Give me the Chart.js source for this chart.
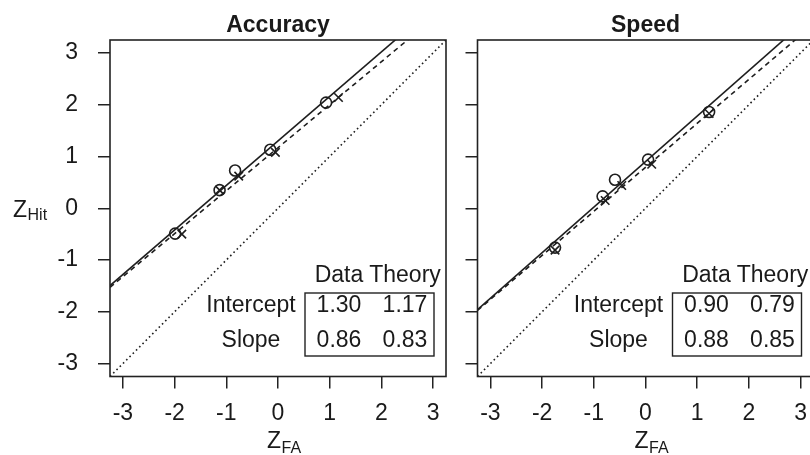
<!DOCTYPE html>
<html>
<head>
<meta charset="utf-8">
<script src="https://cdn.jsdelivr.net/npm/chart.js@4/dist/chart.umd.min.js"></script>
<style>
html,body{margin:0;padding:0;background:#fff;overflow:hidden;width:810px;height:455px;}
#wrap{position:relative;width:810px;height:455px;overflow:hidden;background:#fff;}
canvas{position:absolute;top:0;}
#c1{left:0;}
#c2{left:460px;}
</style>
</head>
<body>
<div id="wrap">
<canvas id="c1" width="460" height="455"></canvas>
<canvas id="c2" width="370" height="455"></canvas>
</div>
<script>
// ---- data ----
const panelTitles = ['Accuracy', 'Speed'];
const tickValues = [-3, -2, -1, 0, 1, 2, 3];
const axisMin = -3.25;
const axisMax = 3.25;
const xAxisTitle = ['Z', 'FA'];
const yAxisTitle = ['Z', 'Hit'];

// Accuracy panel: observed (o) and theory (x) points
const accuracyDataX   = [-1.99, -1.13, -0.83, -0.15, 0.93];
const accuracyDataY   = [-0.49,  0.35,  0.73,  1.13, 2.04];
const accuracyTheoryX = [-1.86, -1.13, -0.76, -0.05, 1.17];
const accuracyTheoryY = [-0.50,  0.35,  0.62,  1.08, 2.14];

// Speed panel
const speedDataX   = [-1.75, -0.83, -0.59, 0.05, 1.23];
const speedDataY   = [-0.76,  0.23,  0.55, 0.94, 1.86];
const speedTheoryX = [-1.75, -0.78, -0.46, 0.12, 1.23];
const speedTheoryY = [-0.81,  0.15,  0.44, 0.85, 1.83];

// Fit table: [Data, Theory]
const tableColumns = ['Data', 'Theory'];
const tableRows = ['Intercept', 'Slope'];
const accuracyIntercept = [1.30, 1.17];
const accuracySlope     = [0.86, 0.83];
const speedIntercept    = [0.90, 0.79];
const speedSlope        = [0.88, 0.85];

// ---- drawing ----
const FONT = '"Liberation Sans", Arial, Helvetica, sans-serif';
const INK = '#1a1a1a';
Chart.defaults.font.family = FONT;
Chart.defaults.font.size = 23;
Chart.defaults.color = INK;

function zip(xs, ys) { return xs.map((x, i) => ({x: x, y: ys[i]})); }
function fitLine(a, b) { return [{x: axisMin, y: a + b * axisMin}, {x: axisMax, y: a + b * axisMax}]; }

const panelPlugin = {
  id: 'panelDecor',
  afterDraw(chart, args, o) {
    const ctx = chart.ctx, ca = chart.chartArea;
    ctx.save();
    // box
    ctx.strokeStyle = '#222';
    ctx.lineWidth = 1.6;
    ctx.strokeRect(ca.left, ca.top, ca.right - ca.left, ca.bottom - ca.top);
    ctx.fillStyle = INK;
    // title
    ctx.font = 'bold 23px ' + FONT;
    ctx.textAlign = 'center';
    ctx.textBaseline = 'alphabetic';
    const cx = (ca.left + ca.right) / 2;
    ctx.fillText(o.title, cx, 31.5);
    // x axis title with subscript
    ctx.textAlign = 'left';
    ctx.font = '23px ' + FONT;
    const zx = cx - 11;
    ctx.fillText(xAxisTitle[0], zx, 448);
    const zw = ctx.measureText(xAxisTitle[0]).width;
    ctx.font = '16px ' + FONT;
    ctx.fillText(xAxisTitle[1], zx + zw + 0.5, 453);
    // y axis title
    if (o.yTitle) {
      ctx.font = '23px ' + FONT;
      ctx.fillText(yAxisTitle[0], 13, 216.5);
      const w2 = ctx.measureText(yAxisTitle[0]).width;
      ctx.font = '16px ' + FONT;
      ctx.fillText(yAxisTitle[1], 13 + w2 + 0.5, 219.5);
    }
    // table
    const colX = [ca.right - 107, ca.right - 41];
    const headY = ca.bottom - 95;
    const rowY = [ca.bottom - 65, ca.bottom - 30];
    const labelX = ca.left + 141;
    ctx.font = '23px ' + FONT;
    ctx.textAlign = 'center';
    tableColumns.forEach((c, i) => ctx.fillText(c, colX[i], headY));
    tableRows.forEach((r, j) => {
      ctx.fillText(r, labelX, rowY[j]);
      const vals = o.table[j];
      vals.forEach((v, i) => ctx.fillText(v.toFixed(2), colX[i], rowY[j]));
    });
    ctx.strokeStyle = '#222';
    ctx.lineWidth = 1.4;
    ctx.strokeRect(ca.right - 141, ca.bottom - 83.5, 129, 63);
    ctx.restore();
  }
};

function makePanel(id, cfg) {
  const lineBase = {showLine: true, pointRadius: 0, borderColor: '#1e1e1e', borderWidth: 1.6, fill: false};
  return new Chart(document.getElementById(id), {
    type: 'scatter',
    data: {
      datasets: [
        Object.assign({label: 'Data fit', data: fitLine(cfg.intercept[0], cfg.slope[0])}, lineBase),
        Object.assign({label: 'Theory fit', data: fitLine(cfg.intercept[1], cfg.slope[1]), borderDash: [5, 4]}, lineBase),
        Object.assign({label: 'Chance', data: [{x: axisMin, y: axisMin}, {x: axisMax, y: axisMax}], borderDash: [1.6, 3]}, lineBase),
        {label: 'Data', data: zip(cfg.dataX, cfg.dataY), pointStyle: 'circle', pointRadius: 5.5,
         pointBackgroundColor: 'rgba(0,0,0,0)', pointBorderColor: '#1e1e1e', pointBorderWidth: 1.6, showLine: false},
        {label: 'Theory', data: zip(cfg.theoryX, cfg.theoryY), pointStyle: 'crossRot', pointRadius: 6,
         pointBorderColor: '#1e1e1e', pointBorderWidth: 1.6, showLine: false}
      ]
    },
    options: {
      responsive: false,
      animation: false,
      events: [],
      layout: {padding: {top: 40, right: cfg.rightPad, left: 0, bottom: 0}},
      plugins: {
        legend: {display: false},
        tooltip: {enabled: false},
        panelDecor: {title: cfg.title, yTitle: cfg.yTitle, table: [cfg.intercept, cfg.slope]}
      },
      scales: {
        x: {
          type: 'linear', min: axisMin, max: axisMax,
          afterBuildTicks: s => { s.ticks = tickValues.map(v => ({value: v})); },
          afterFit: s => { s.height = 78.5; },
          border: {display: false},
          grid: {drawOnChartArea: false, drawTicks: true, tickLength: 12, color: '#222', lineWidth: 1.5},
          ticks: {padding: 11, color: INK, font: {size: 23}, maxRotation: 0, autoSkip: false,
                  callback: v => String(v)}
        },
        y: {
          type: 'linear', min: axisMin, max: axisMax,
          afterBuildTicks: s => { s.ticks = tickValues.map(v => ({value: v})); },
          afterFit: s => { s.width = cfg.yWidth; },
          border: {display: false},
          grid: {drawOnChartArea: false, drawTicks: true, tickLength: 12, color: '#222', lineWidth: 1.5},
          ticks: {display: cfg.yLabels, padding: 20, color: INK, font: {size: 23}, autoSkip: false,
                  callback: v => String(v)}
        }
      }
    },
    plugins: [panelPlugin]
  });
}

makePanel('c1', {
  title: panelTitles[0], yTitle: true, yLabels: true, yWidth: 110, rightPad: 14,
  dataX: accuracyDataX, dataY: accuracyDataY, theoryX: accuracyTheoryX, theoryY: accuracyTheoryY,
  intercept: accuracyIntercept, slope: accuracySlope
});
makePanel('c2', {
  title: panelTitles[1], yTitle: false, yLabels: false, yWidth: 17.5, rightPad: 16.5,
  dataX: speedDataX, dataY: speedDataY, theoryX: speedTheoryX, theoryY: speedTheoryY,
  intercept: speedIntercept, slope: speedSlope
});
</script>
</body>
</html>
